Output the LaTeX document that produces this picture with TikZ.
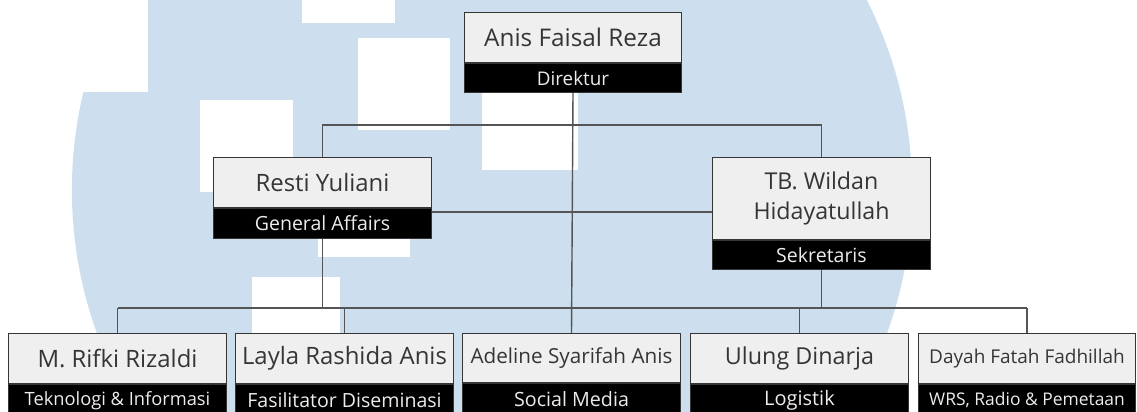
\documentclass[tikz,border=0pt]{standalone}
\usepackage{fontspec}
\setmainfont{Open Sans}
\usepackage{tikz}
\usetikzlibrary{positioning}

\definecolor{wmblue}{HTML}{CDDEEE}
\definecolor{boxgray}{HTML}{EFEFEF}
\definecolor{linegray}{HTML}{555555}
\definecolor{namegray}{HTML}{353535}
\definecolor{rolewhite}{HTML}{ECECEC}

\begin{document}
\begin{tikzpicture}[
    x=0.025cm, y=-0.025cm,
    person/.style={rectangle, draw=namegray, line width=0.7pt, fill=boxgray, text=namegray, minimum width=5.425cm, minimum height=1.25cm, inner sep=0pt, align=center, anchor=north, font=\fontsize{17}{21}\selectfont},
    staff/.style={person, font=\fontsize{17}{20}\selectfont},
    role/.style={rectangle, draw=namegray, line width=0.7pt, fill=black, text=rolewhite, minimum width=5.425cm, minimum height=0.725cm, inner sep=0pt, align=center, font=\fontsize{13.9}{16}\selectfont},
    link/.style={draw=linegray, line width=1pt}
]
\useasboundingbox (0,0) rectangle (1137,412);

% Watermark in the background
\fill[wmblue] (492,190) circle [radius=10.5cm];
\fill[white] (0,0) rectangle (148,92);
\fill[white] (302,0) rectangle (395,23);
\fill[white] (358,38) rectangle (450,130);
\fill[white] (200,100) rectangle (293,192);
\fill[white] (482,60) rectangle (578,170);
\fill[white] (318,165) rectangle (410,257);
\fill[white] (252,277) rectangle (340,370);

% Bus lines
\coordinate (busA) at (0,125);
\coordinate (midline) at (0,212);
\coordinate (busB) at (0,308);

% Direktur
\node[person, font=\fontsize{17.3}{21}\selectfont] (dirName) at (573,12) {Anis Faisal Reza};
\node[role, font=\fontsize{13.4}{16}\selectfont, below=0pt of dirName] (dirRole) {Direktur};

% Second level
\node[person] (restiName) at (322.5,157) {Resti Yuliani};
\node[role, minimum height=0.75cm, below=0pt of restiName] (restiRole) {General Affairs};

\node[person, font=\fontsize{16.5}{21}\selectfont, minimum height=2.05cm] (wildanName) at (821.5,157) {TB. Wildan\\Hidayatullah};
\node[role, below=0pt of wildanName] (wildanRole) {Sekretaris};

% Bottom row
\node[staff] (rifkiName) at (117.5,333) {M. Rifki Rizaldi};
\node[role, minimum height=0.8cm, font=\fontsize{13}{16}\selectfont, below=0pt of rifkiName] (rifkiRole) {Teknologi \& Informasi};

\node[staff] (laylaName) at (344.5,333) {Layla Rashida Anis};
\node[role, minimum height=0.8cm, below=0pt of laylaName] (laylaRole) {Fasilitator Diseminasi};

\node[staff, minimum height=1.225cm, font=\fontsize{14.7}{17}\selectfont] (adelineName) at (571.5,333) {Adeline Syarifah Anis};
\node[role, minimum height=0.8cm, font=\fontsize{14}{16}\selectfont, below=0pt of adelineName] (adelineRole) {Social Media};

\node[staff, font=\fontsize{16.6}{19}\selectfont] (ulungName) at (799.5,333) {Ulung Dinarja};
\node[role, minimum height=0.8cm, font=\fontsize{14.2}{16}\selectfont, below=0pt of ulungName] (ulungRole) {Logistik};

\node[staff, font=\fontsize{13.5}{16}\selectfont] (dayahName) at (1027,333) {Dayah Fatah Fadhillah};
\node[role, minimum height=0.8cm, font=\fontsize{12.4}{15}\selectfont, below=0pt of dayahName] (dayahRole) {WRS, Radio \& Pemetaan};

% Connectors
\draw[link] (dirRole.south) -- (adelineName.north);
\draw[link] (restiName.north) -- (restiName.north |- busA) -- (wildanName.north |- busA) -- (wildanName.north);
\draw[link] (restiName.east |- midline) -- (wildanName.west |- midline);
\draw[link] (restiRole.south) -- (restiRole.south |- busB);
\draw[link] (wildanRole.south) -- (wildanRole.south |- busB);
\draw[link] (rifkiName.north |- busB) -- (dayahName.north |- busB);
\draw[link] (rifkiName.north) -- (rifkiName.north |- busB);
\draw[link] (laylaName.north) -- (laylaName.north |- busB);
\draw[link] (ulungName.north) -- (ulungName.north |- busB);
\draw[link] (dayahName.north) -- (dayahName.north |- busB);

\end{tikzpicture}
\end{document}
